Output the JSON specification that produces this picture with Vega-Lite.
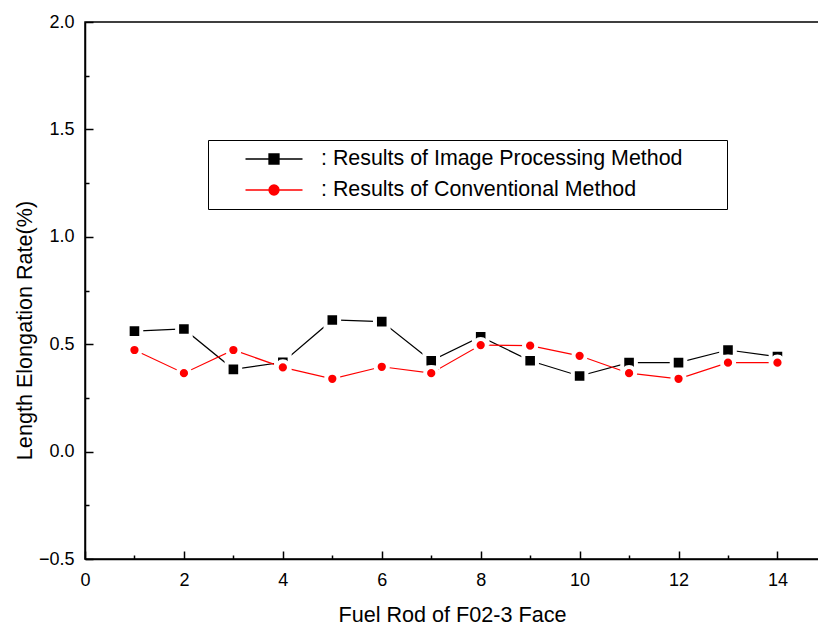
{
  "$schema": "https://vega.github.io/schema/vega-lite/v6.json",
  "width": 734,
  "height": 537,
  "autosize": "none",
  "padding": {"left": 85, "top": 22, "right": 0, "bottom": 71},
  "background": "white",
  "config": {
    "view": {"stroke": "black", "strokeWidth": 1.5},
    "font": "Liberation Sans",
    "axis": {
      "domainColor": "black", "domainWidth": 1.5,
      "tickColor": "black", "tickWidth": 1.5,
      "labelColor": "black", "titleColor": "black",
      "grid": false, "labelFlush": false,
      "labelFont": "Liberation Sans", "titleFont": "Liberation Sans",
      "titleFontWeight": "normal", "labelFontSize": 18, "titleFontSize": 21.6
    }
  },
  "data": {"values": [
    {"rod": 1, "rate": 0.561, "series": "Results of Image Processing Method"},
    {"rod": 2, "rate": 0.571, "series": "Results of Image Processing Method"},
    {"rod": 3, "rate": 0.383, "series": "Results of Image Processing Method"},
    {"rod": 4, "rate": 0.416, "series": "Results of Image Processing Method"},
    {"rod": 5, "rate": 0.613, "series": "Results of Image Processing Method"},
    {"rod": 6, "rate": 0.605, "series": "Results of Image Processing Method"},
    {"rod": 7, "rate": 0.423, "series": "Results of Image Processing Method"},
    {"rod": 8, "rate": 0.535, "series": "Results of Image Processing Method"},
    {"rod": 9, "rate": 0.423, "series": "Results of Image Processing Method"},
    {"rod": 10, "rate": 0.352, "series": "Results of Image Processing Method"},
    {"rod": 11, "rate": 0.414, "series": "Results of Image Processing Method"},
    {"rod": 12, "rate": 0.414, "series": "Results of Image Processing Method"},
    {"rod": 13, "rate": 0.473, "series": "Results of Image Processing Method"},
    {"rod": 14, "rate": 0.442, "series": "Results of Image Processing Method"},
    {"rod": 1, "rate": 0.473, "series": "Results of Conventional Method"},
    {"rod": 2, "rate": 0.365, "series": "Results of Conventional Method"},
    {"rod": 3, "rate": 0.473, "series": "Results of Conventional Method"},
    {"rod": 4, "rate": 0.392, "series": "Results of Conventional Method"},
    {"rod": 5, "rate": 0.339, "series": "Results of Conventional Method"},
    {"rod": 6, "rate": 0.395, "series": "Results of Conventional Method"},
    {"rod": 7, "rate": 0.365, "series": "Results of Conventional Method"},
    {"rod": 8, "rate": 0.496, "series": "Results of Conventional Method"},
    {"rod": 9, "rate": 0.493, "series": "Results of Conventional Method"},
    {"rod": 10, "rate": 0.446, "series": "Results of Conventional Method"},
    {"rod": 11, "rate": 0.365, "series": "Results of Conventional Method"},
    {"rod": 12, "rate": 0.339, "series": "Results of Conventional Method"},
    {"rod": 13, "rate": 0.414, "series": "Results of Conventional Method"},
    {"rod": 14, "rate": 0.414, "series": "Results of Conventional Method"}
  ]},
  "layer": [
    {
      "mark": {"type": "line", "strokeWidth": 1.2},
      "encoding": {
        "x": {"field": "rod", "type": "quantitative",
          "scale": {"domain": [0, 14.84], "nice": false, "zero": false},
          "axis": {"orient": "bottom", "values": [0, 2, 4, 6, 8, 10, 12, 14], "format": "d",
            "tickSize": -8, "labelPadding": 20,
            "title": "Fuel Rod of F02-3 Face", "titleY": 56, "titleBaseline": "middle"}},
        "y": {"field": "rate", "type": "quantitative",
          "scale": {"domain": [-0.5, 2.0], "nice": false, "zero": false},
          "axis": {"orient": "left", "values": [-0.5, 0, 0.5, 1, 1.5, 2], "format": ".1f",
            "tickSize": -8, "labelPadding": 19,
            "title": "Length Elongation Rate(%)", "titleX": -60, "titleY": 308,
            "titleBaseline": "middle", "titleAngle": -90, "titleAlign": "center"}},
        "color": {"field": "series", "type": "nominal",
          "scale": {"domain": ["Results of Image Processing Method", "Results of Conventional Method"], "range": ["black", "red"]},
          "legend": {
            "orient": "none", "legendX": 123, "legendY": 118,
            "title": null, "direction": "vertical",
            "strokeColor": "black", "fillColor": "white", "padding": 8, "cornerRadius": 0,
            "labelFontSize": 21.4, "labelFont": "Liberation Sans", "labelColor": "black", "labelLimit": 700,
            "labelExpr": "': ' + datum.label + '\u00a0\u00a0\u00a0\u00a0\u00a0\u00a0\u200b'",
            "symbolSize": 400, "symbolOffset": 47, "labelOffset": 36, "rowPadding": 9,
            "symbolType": "M-2.85,0L2.85,0M-0.5,-0.5L0.5,-0.5L0.5,0.5L-0.5,0.5Z",
            "encode": {"symbols": {"update": {
              "shape": {"signal": "datum.value === 'Results of Image Processing Method' ? 'M-2.85,0L2.85,0M-0.5,-0.5L0.5,-0.5L0.5,0.5L-0.5,0.5Z' : 'M-2.85,0L2.85,0M0.5,0A0.5,0.5,0,1,1,-0.5,0A0.5,0.5,0,1,1,0.5,0Z'"},
              "fill": {"signal": "datum.value === 'Results of Image Processing Method' ? 'black' : 'red'"},
              "stroke": {"signal": "datum.value === 'Results of Image Processing Method' ? 'black' : 'red'"},
              "strokeWidth": {"value": 1.3},
              "strokeOpacity": {"value": 1},
              "fillOpacity": {"value": 1},
              "opacity": {"value": 1}
            }}}
          }}
      }
    },
    {
      "transform": [{"filter": "datum.series === 'Results of Image Processing Method'"}],
      "mark": {"type": "point", "filled": true, "opacity": 1, "shape": "square", "size": 185, "fill": "black", "stroke": "white", "strokeWidth": 4},
      "encoding": {
        "x": {"field": "rod", "type": "quantitative",
          "axis": {"orient": "bottom", "values": [1, 3, 5, 7, 9, 11, 13], "labels": false, "domain": false,
            "tickSize": -4, "title": null}},
        "y": {"field": "rate", "type": "quantitative",
          "axis": {"orient": "left", "values": [-0.25, 0.25, 0.75, 1.25, 1.75], "labels": false, "domain": false,
            "tickSize": -4, "title": null}}
      }
    },
    {
      "transform": [{"filter": "datum.series === 'Results of Conventional Method'"}],
      "mark": {"type": "point", "filled": true, "opacity": 1, "shape": "circle", "size": 150, "fill": "red", "stroke": "white", "strokeWidth": 4},
      "encoding": {
        "x": {"field": "rod", "type": "quantitative", "axis": null},
        "y": {"field": "rate", "type": "quantitative", "axis": null}
      }
    }
  ],
  "resolve": {"axis": {"x": "independent", "y": "independent"}}
}
